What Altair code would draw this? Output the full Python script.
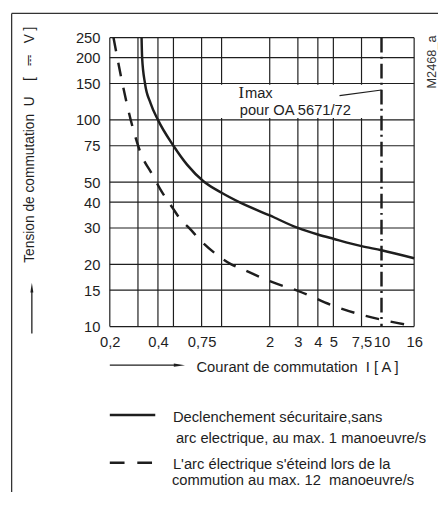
import altair as alt
import pandas as pd

# ---------------- data ----------------
solid_I = [0.316, 0.3185, 0.332, 0.359, 0.4, 0.5, 0.61, 0.77, 1.0, 1.29, 2, 3, 4, 5, 7.5, 10, 16]
solid_U = [250, 200, 150, 121, 100, 75, 60.6, 50.5, 44.4, 40, 34.5, 30, 27.9, 26.6, 24.5, 23.4, 21.4]

dashed_I = [0.211, 0.235, 0.278, 0.31, 0.369, 0.415, 0.5, 0.55, 0.626, 0.77, 0.97, 1.15, 1.36, 2.12, 3, 5, 7.5, 10, 16]
dashed_U = [250, 162, 92, 70, 54.3, 46, 37, 33.2, 30, 25.3, 21.8, 20, 18.9, 16.3, 14.9, 12.6, 11.4, 10.8, 10.05]

x_grid = [0.2, 0.3, 0.4, 0.5, 0.75, 1, 2, 3, 4, 5, 7.5, 16]
y_grid = [10, 15, 20, 30, 40, 50, 75, 100, 150, 200, 250]
x_labels = [0.2, 0.4, 0.75, 2, 3, 4, 5, 7.5, 10, 16]
y_labels = [10, 15, 20, 30, 40, 50, 75, 100, 150, 200, 250]
imax_I = [10]
box_I = [0.85, 9.4]
box_U = [102, 148]

# ---------------- layout ----------------
OX, OY = 111.7, 33.7
W, H = 310.0, 294.3
INK = "#1e1e1e"
GRID = "#1e1e1e"
FONT = "Liberation Sans, Arial, sans-serif"
SERIF = "Liberation Serif, DejaVu Serif, serif"
NB = "\u00a0"


def px(x):
    return x - OX


def py(y):
    return y - OY


xscale = alt.Scale(type="log", domain=[0.2, 16], nice=False)
yscale = alt.Scale(type="log", domain=[10, 250], nice=False)
xaxis = alt.Axis(values=x_labels, labelExpr="replace(toString(datum.value), '.', ',')",
                 grid=False, domain=False, ticks=False, labelPadding=8, labelFontSize=15,
                 labelFont=FONT, labelColor=INK, labelFlush=False, labelOverlap=False, title=None)
yaxis = alt.Axis(values=y_labels, labelExpr="toString(datum.value)",
                 grid=False, domain=False, ticks=False, labelPadding=10, labelFontSize=15,
                 labelFont=FONT, labelColor=INK, labelFlush=False, labelOverlap=False, title=None)
X = alt.X("I:Q", scale=xscale, axis=xaxis)
Y = alt.Y("U:Q", scale=yscale, axis=yaxis)

one = alt.Data(values=[{"k": 0}])

layers = []

# grid
layers.append(alt.Chart(pd.DataFrame({"I": x_grid})).mark_rule(color=GRID, strokeWidth=1.2).encode(x=X))
layers.append(alt.Chart(pd.DataFrame({"U": y_grid})).mark_rule(color=GRID, strokeWidth=1.2).encode(y=Y))

# white label box
layers.append(alt.Chart(pd.DataFrame({"I": [box_I[0]], "I2": [box_I[1]], "U": [box_U[0]], "U2": [box_U[1]]}))
              .mark_rect(color="white").encode(x=X, x2="I2", y=Y, y2="U2"))

# Imax dash-dot line
layers.append(alt.Chart(pd.DataFrame({"I": imax_I})).mark_rule(color=INK, strokeWidth=2.5,
              strokeDash=[15, 4.5, 2, 5]).encode(x=X))

# curves
layers.append(alt.Chart(pd.DataFrame({"I": solid_I, "U": solid_U})).mark_line(
    color=INK, strokeWidth=2.5, interpolate="monotone").encode(x=X, y=Y, order=alt.Order("I:Q")))
layers.append(alt.Chart(pd.DataFrame({"I": dashed_I, "U": dashed_U})).mark_line(
    color=INK, strokeWidth=2.5, interpolate="monotone", strokeDash=[14, 12]).encode(x=X, y=Y, order=alt.Order("I:Q")))


def txt(s, x, y, size=15, align="left", baseline="alphabetic", angle=0, font=FONT, color=INK):
    return alt.Chart(one).mark_text(text=s, align=align, baseline=baseline, angle=angle, font=font,
                                    fontSize=size, color=color).encode(x=alt.value(px(x)), y=alt.value(py(y)))


def seg(x1, y1, x2, y2, width=1.3, color=INK, dash=None):
    kw = dict(color=color, strokeWidth=width)
    if dash:
        kw["strokeDash"] = dash
    return alt.Chart(one).mark_rule(**kw).encode(x=alt.value(px(x1)), y=alt.value(py(y1)),
                                                 x2=alt.value(px(x2)), y2=alt.value(py(y2)))


def head(x, y, path, size):
    return alt.Chart(one).mark_point(shape=path, size=size, filled=True, color=INK, opacity=1,
                                     strokeWidth=0).encode(x=alt.value(px(x)), y=alt.value(py(y)))


# frame
layers.append(seg(11.7, 9, 446, 9, 1.3, "#333333"))
layers.append(seg(11.7, 9, 11.7, 505, 1.3, "#333333"))

# y title + arrow
ytitle = ("Tension de commutation" + NB * 2 + "U" + NB * 4 + "[" + NB * 3 + "\u2393" + NB * 3 + "V" + NB + "]")
layers.append(txt(ytitle, 30, 263, size=14, angle=270, baseline="middle"))
layers.append(seg(32.3, 292, 32.3, 335, 1.3))
layers.append(head(32.3, 288.3, "M0,-1L0.3,1L-0.3,1Z", 100))

# x title + arrow
layers.append(txt("Courant de commutation" + NB * 2 + "I [ A ]", 200, 374.5))
layers.append(seg(111.7, 367.3, 180, 367.3, 1.3))
layers.append(head(182.6, 367.3, "M1,0L-1,-0.28L-1,0.28Z", 130))

# legend
layers.append(seg(111.7, 418, 158, 418, 2.5))
layers.append(txt("Declenchement sécuritaire,sans", 176, 425))
layers.append(txt("arc electrique, au max. 1 manoeuvre/s", 179, 447))
layers.append(seg(111.7, 466.7, 155, 466.7, 2.5, dash=[15, 13]))
layers.append(txt("L'arc électrique s'éteind lors de la", 176, 473))
layers.append(txt("commution au max. 12" + NB * 2 + "manoeuvre/s", 175, 489.5))

# Imax annotation
layers.append(txt("I", 242.7, 95, size=17, font=SERIF))
layers.append(txt("max", 249.3, 95))
layers.append(txt("pour OA 5671/72", 244, 112.3))
layers.append(seg(345.7, 92.7, 388.5, 87, 1.2))

# drawing code
layers.append(txt("M2468_a", 439.5, 58.5, size=13, align="center", baseline="middle", angle=270, color="#333333"))

chart = alt.layer(*layers).properties(
    width=W, height=H,
    autosize=alt.AutoSizeParams(type="none"),
    padding={"left": OX - 8, "top": OY - 8, "right": 438 - (OX - 8) - W, "bottom": 484 - (OY - 8) - H},
    background="white",
).configure_view(stroke=None)

chart.save("out.html", embed_options={"renderer": "svg", "actions": False})
